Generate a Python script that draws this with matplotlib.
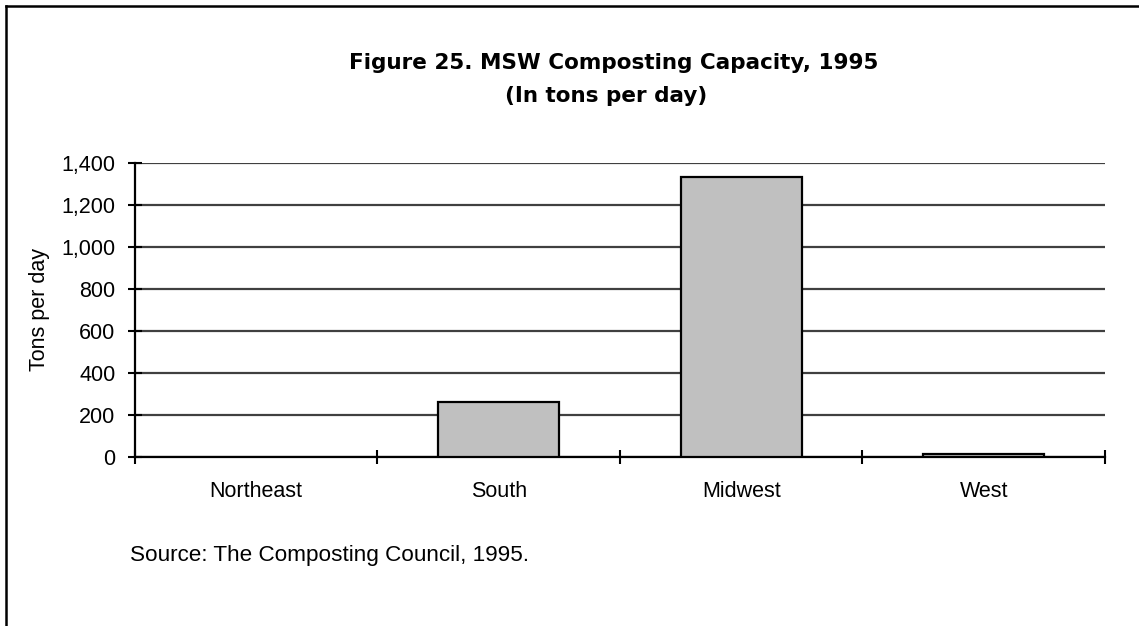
import matplotlib
matplotlib.use("Agg")
import matplotlib.pyplot as plt
from matplotlib.ticker import FixedLocator, FuncFormatter
from matplotlib.lines import Line2D

regions = ["Northeast", "South", "Midwest", "West"]
capacity = [0, 260, 1335, 12]
yticks = [0, 200, 400, 600, 800, 1000, 1200, 1400]

plt.rcParams["font.family"] = ["Liberation Sans", "DejaVu Sans"]

fig = plt.figure(figsize=(11.39, 6.26), dpi=100)
ax = fig.add_axes([0.1185, 0.270, 0.8516, 0.4696])

x = list(range(len(regions)))
edges = ["black" if v > 0 else "none" for v in capacity]
ax.bar(x, capacity, width=0.5, color="#c0c0c0", edgecolor=edges,
       linewidth=1.6, zorder=3)

ax.set_xlim(-0.5, len(regions) - 0.5)
ax.set_ylim(0, 1400)
ax.yaxis.set_major_locator(FixedLocator(yticks))
ax.yaxis.set_major_formatter(FuncFormatter(lambda v, p: f"{int(v):,}"))
ax.grid(axis="y", color="#404040", linewidth=1.6, zorder=1)
ax.set_axisbelow(True)

ax.set_xticks(x)
ax.set_xticklabels(regions)
ax.set_xticks([i - 0.5 for i in range(len(regions) + 1)], minor=True)
ax.tick_params(axis="x", which="major", length=0, pad=17, labelsize=15.5)
ax.tick_params(axis="x", which="minor", direction="inout", length=10,
               width=1.5)
ax.tick_params(axis="y", direction="inout", length=10, width=1.5, pad=9,
               labelsize=15.5)

for s in ["top", "right"]:
    ax.spines[s].set_visible(False)
for s in ["left", "bottom"]:
    ax.spines[s].set_linewidth(1.6)

ax.set_ylabel("Tons per day", fontsize=15.5, labelpad=8)

title_font = dict(ha="center", va="center", fontsize=15.5,
                  fontweight="bold", family="DejaVu Sans")
fig.text(0.539, 0.900, "Figure 25. MSW Composting Capacity, 1995",
         **title_font)
fig.text(0.532, 0.847, "(In tons per day)", **title_font)
fig.text(0.1141, 0.112, "Source: The Composting Council, 1995.",
         ha="left", va="center", fontsize=16.2)

# frame along the left and top edges
fig.add_artist(Line2D([0.0053, 0.0053], [0, 0.9904], color="black",
                      linewidth=1.8, transform=fig.transFigure))
fig.add_artist(Line2D([0.0053, 1.0], [0.9904, 0.9904], color="black",
                      linewidth=1.8, transform=fig.transFigure))

fig.savefig("out.png", dpi=100)
